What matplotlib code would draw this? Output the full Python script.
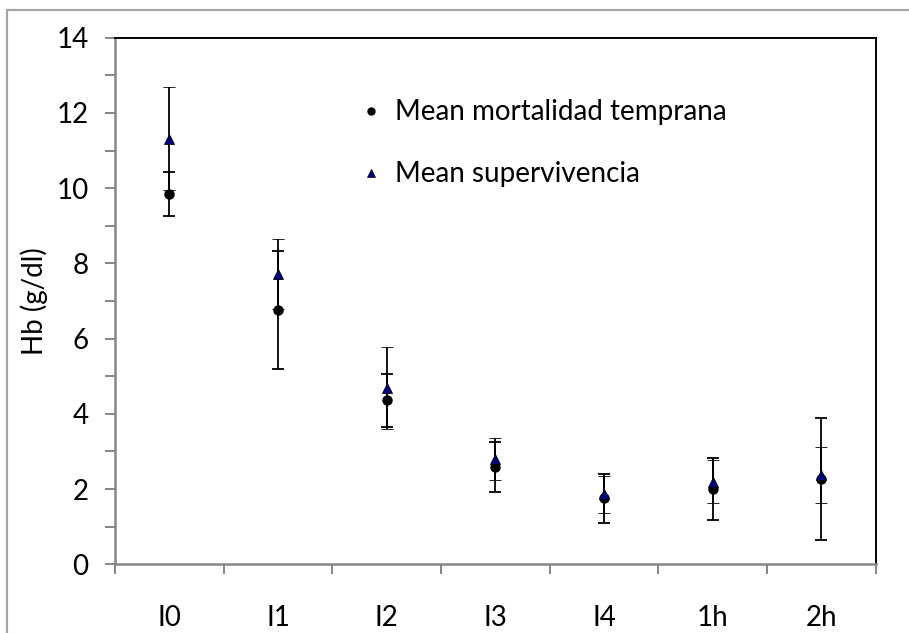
import matplotlib.pyplot as plt
import numpy as np
from matplotlib.patches import Rectangle
from matplotlib.lines import Line2D

# Hb por momento de muestreo
categories = ['I0', 'I1', 'I2', 'I3', 'I4', '1h', '2h']
mort_mean = [9.85, 6.76, 4.36, 2.58, 1.75, 2.00, 2.27]
mort_err = [0.58, 1.58, 0.71, 0.66, 0.66, 0.83, 1.62]
surv_mean = [11.32, 7.73, 4.69, 2.80, 1.86, 2.20, 2.37]
surv_err = [1.37, 0.93, 1.08, 0.55, 0.50, 0.57, 0.75]

plt.rcParams['font.family'] = ['Lato', 'DejaVu Sans']
fs = 20
axis_gray = '#868686'

fig = plt.figure(figsize=(9.09, 6.33), dpi=100)
ax = fig.add_axes([0.1265, 0.1085, 0.8369, 0.8319])

# outer chart frame
fig.patches.append(Rectangle((7 / 909, -0.1), 1.2, 1.1 - 10 / 633,
                             transform=fig.transFigure, fill=False,
                             edgecolor='#a6a6a6', linewidth=1.6))

x = np.arange(len(categories))
ax.errorbar(x, mort_mean, yerr=mort_err, fmt='o', color='black',
            markersize=6.5, ecolor='black', elinewidth=1.3, capsize=4.5,
            capthick=1.3, zorder=3)
ax.errorbar(x, surv_mean, yerr=surv_err, fmt='^', color='#000080',
            markeredgecolor='black', markeredgewidth=0.6, markersize=7.5,
            ecolor='black', elinewidth=1.3, capsize=4.5, capthick=1.3,
            zorder=4)

ax.set_xlim(-0.5, len(categories) - 0.5)
ax.set_ylim(0, 14)

# category boundaries as major ticks, names centred as minor ticks
ax.set_xticks(np.arange(-0.5, len(categories), 1.0))
ax.set_xticklabels([])
ax.set_xticks(x, minor=True)
ax.set_xticklabels(categories, minor=True, fontsize=fs)
ax.tick_params(axis='x', which='major', direction='out', length=7,
               width=1.4, color=axis_gray)
ax.tick_params(axis='x', which='minor', length=0, pad=29)

ax.set_yticks(np.arange(0, 15, 1))
ax.set_yticklabels([str(v) if v % 2 == 0 else '' for v in range(15)],
                   fontsize=fs)
ax.tick_params(axis='y', direction='out', length=7, width=1.4,
               color=axis_gray, pad=12)

ax.set_ylabel('Hb (g/dl)', fontsize=fs, labelpad=6)

for side in ['left', 'bottom']:
    ax.spines[side].set_color(axis_gray)
    ax.spines[side].set_linewidth(1.8)
for side in ['top', 'right']:
    ax.spines[side].set_color('black')
    ax.spines[side].set_linewidth(1.4)

# legend shows the markers only
handles = [
    Line2D([], [], linestyle='none', marker='o', color='black', markersize=5),
    Line2D([], [], linestyle='none', marker='^', color='#000080',
           markeredgecolor='black', markeredgewidth=0.5, markersize=6),
]
labels = ['Mean mortalidad temprana', 'Mean supervivencia']
ax.legend(handles, labels, loc='upper left', bbox_to_anchor=(0.381, 0.865),
          bbox_transform=fig.transFigure, frameon=False, fontsize=fs,
          borderpad=0, labelspacing=1.3, handlelength=0.8,
          handletextpad=0.45)

fig.savefig('out.png', dpi=100)
